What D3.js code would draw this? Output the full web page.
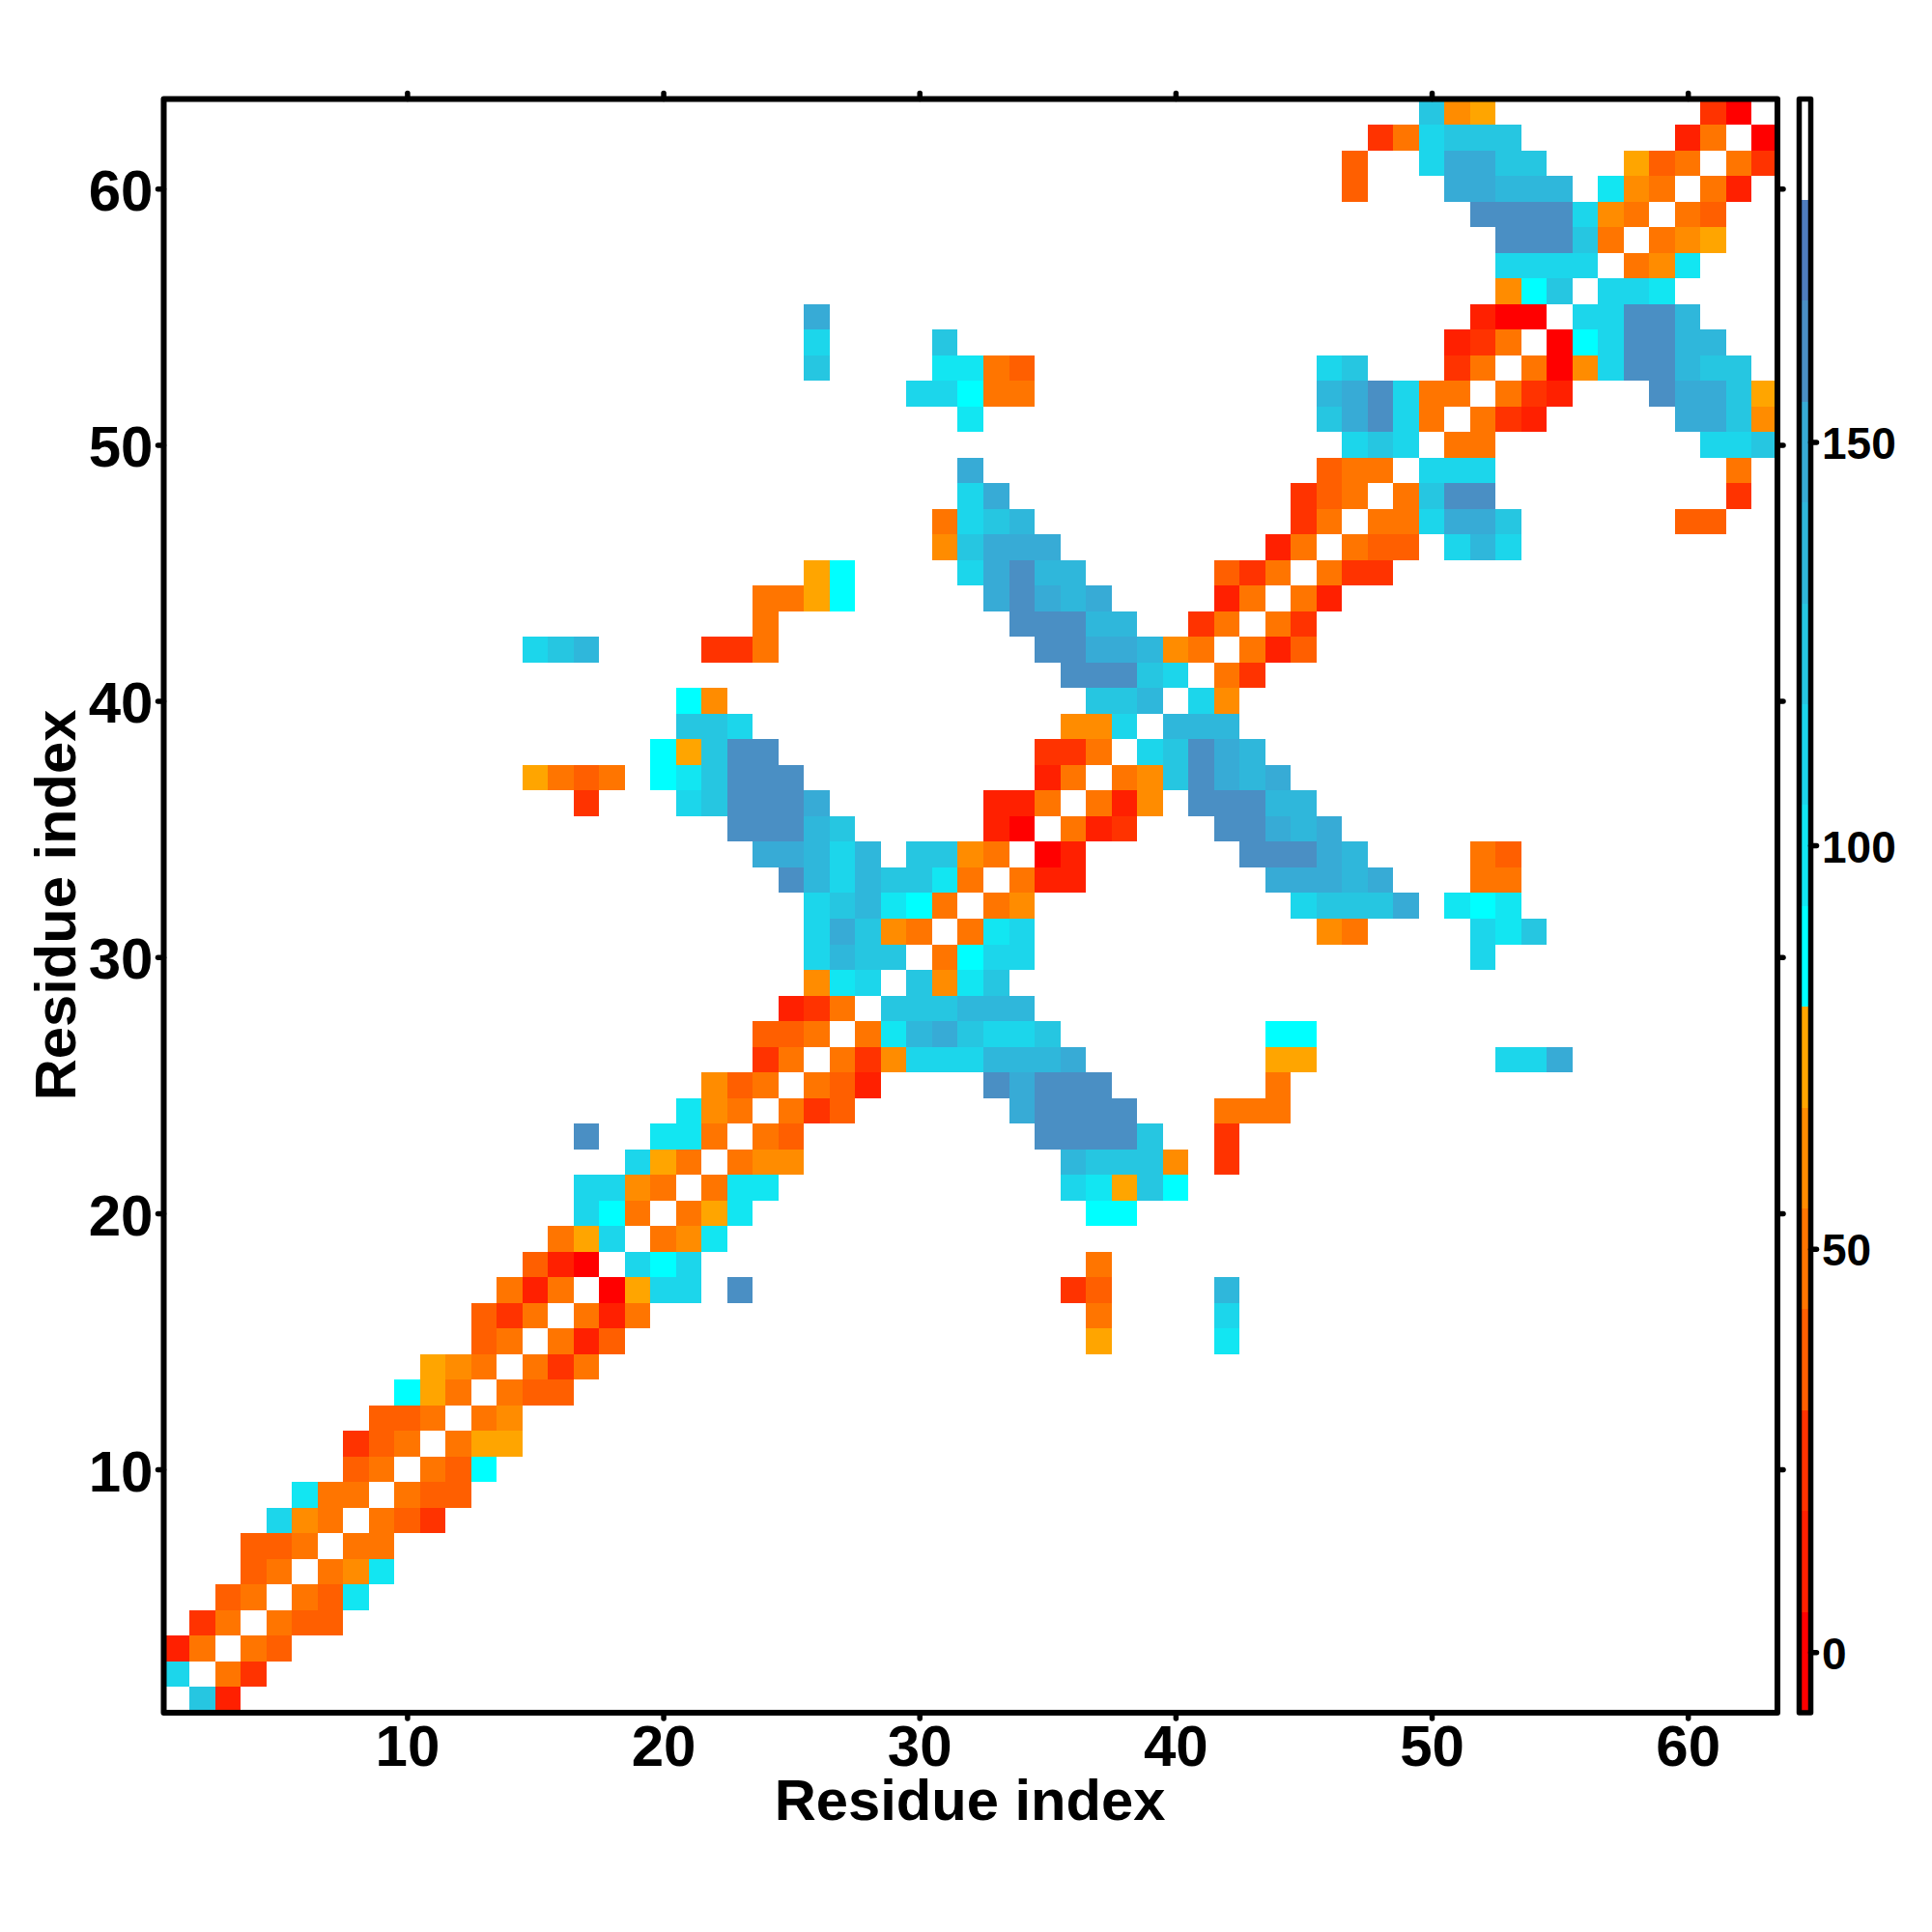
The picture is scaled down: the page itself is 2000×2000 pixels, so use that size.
<!DOCTYPE html>
<html>
<head>
<meta charset="utf-8">
<script src="https://cdn.jsdelivr.net/npm/d3@7"></script>
<style>
html,body{margin:0;padding:0;background:#fff}
text{font-family:"Liberation Sans",Arial,sans-serif;font-weight:bold;fill:#000}
</style>
</head>
<body>
<div id="chart"></div>
<script>
// Colour levels (low to high)
const levelColors = ["#ff0000","#ff2000","#ff3300","#ff5f00","#ff7500","#ff8c00","#ffa500",
  "#00ffff","#12e6f2","#1cd6eb","#26c6e1","#2fb7db","#37abd6","#4a8fc4","#4f7dbf","#ffffff"];
const levelThresholds = [5,17.5,30,42.5,55,67.5,80,92.5,105,117.5,130,142.5,155,167.5,180];
const levelValues = [-1,11,24,36,49,61,74,86,99,111,124,136,149,161,174,186];
const levelCodes = "0123456789abcde";
const valueDomain = [-7.5,192.5];

const residueTicks = [10,20,30,40,50,60];
const colorTicks = [0,50,100,150];
const axisTitle = "Residue index";

// Each run: residue y, first residue x, then one code per residue (value level; "." = no value)
const cellRuns = [
[1,2,"a1"],[2,1,"9.42"],[3,1,"14.43"],[4,2,"24.433"],[5,3,"34.438"],[6,4,"34.458"],[7,4,"334.44"],
[8,5,"954.432"],[9,6,"844.433"],[10,8,"34.437"],[11,8,"234.466"],[12,9,"334.45"],[13,10,"764.433"],
[14,11,"654.424"],[15,13,"34.413"],[15,37,"6"],[15,42,"8"],
[16,13,"324.414"],[16,37,"4"],[16,42,"9"],
[17,14,"414.0699.d"],[17,36,"23"],[17,42,"b"],
[18,15,"310.979"],[18,37,"4"],
[19,16,"469.458"],
[20,17,"974.468"],[20,37,"77"],
[21,17,"9954.488"],[21,36,"986a7"],
[22,19,"964.455"],[22,36,"baaa5.2"],
[23,17,"d"],[23,20,"884.43"],[23,35,"dddda"],[23,42,"2"],
[24,21,"854.423"],[24,34,"cdddd"],[24,42,"444"],
[25,22,"534.431"],[25,33,"dcddd"],[25,44,"4"],
[26,24,"24.425999bbbc"],[26,44,"66"],[26,53,"99c"],
[27,24,"334.48bca99a"],[27,44,"77"],
[28,25,"124.aaabbb"],
[29,26,"589.a58a"],
[30,26,"9baa.4799"],[30,52,"9"],
[31,26,"9ca54.489"],[31,46,"54"],[31,52,"98a"],
[32,26,"9ab874.45"],[32,45,"9aaac.878"],
[33,25,"db9baa84.411"],[33,44,"cccbc"],[33,52,"44"],
[34,24,"ccb9b.aa54.01"],[34,43,"dddcb"],[34,52,"43"],
[35,23,"dddba"],[35,33,"10.412"],[35,42,"ddcbc"],
[36,17,"2"],[36,21,"9adddc"],[36,33,"114.415.dddbb"],
[37,15,"6434.78addd"],[37,35,"14.45adcbc"],
[38,20,"76add"],[38,35,"224.9adcb"],
[39,21,"aa9"],[39,36,"559.bbb"],
[40,21,"75"],[40,37,"aab.95"],
[41,36,"ddda9.42"],
[42,15,"9ab"],[42,22,"224"],[42,35,"ddccb54.413"],
[43,24,"4"],[43,34,"dddbb"],[43,41,"24.42"],
[44,24,"4467"],[44,33,"cdcbc"],[44,42,"14.41"],
[45,26,"67"],[45,32,"9cdbb"],[45,42,"324.422"],
[46,31,"5accc"],[46,44,"14.433.9b9"],
[47,31,"49ab"],[47,45,"24.449cca"],[47,60,"33"],
[48,32,"9c"],[48,45,"234.4add"],[48,62,"2"],
[49,32,"c"],[49,46,"344.999"],[49,62,"4"],
[50,47,"9a9.44"],[50,61,"99a"],
[51,32,"8"],[51,46,"acd94.421"],[51,60,"cca5"],
[52,30,"99744"],[52,46,"bcd944.421"],[52,59,"dcca6"],
[53,26,"a"],[53,31,"8843"],[53,46,"9a"],[53,51,"24.4059ddbaa"],
[54,26,"9"],[54,31,"a"],[54,51,"124.079ddbb"],
[55,26,"c"],[55,52,"100.99ddb"],
[56,53,"57a.998"],
[57,53,"9999.458"],
[58,53,"ddda4.456"],
[59,52,"dddd954.43"],
[60,47,"3"],[60,51,"ccbbb"],[60,57,"854.41"],
[61,47,"3"],[61,50,"9ccaa"],[61,58,"634.42"],
[62,48,"249aaa"],[62,60,"14.0"],
[63,50,"a56"],[63,61,"20"]
];

const cells = [];
cellRuns.forEach(([y, start, codes]) => {
  Array.from(codes).forEach((c, k) => {
    const level = levelCodes.indexOf(c);
    if (level >= 0) cells.push({x: start + k, y, value: levelValues[level]});
  });
});

const W = 2000, H = 2000;
const xScale = d3.scaleLinear().domain([0.5,63.5]).range([169.5,1840]);
const yScale = d3.scaleLinear().domain([0.5,63.5]).range([1773,102.5]);
const colorScale = d3.scaleThreshold().domain(levelThresholds).range(levelColors);
const barY = d3.scaleLinear().domain(valueDomain).range([1773,102.5]);
const barLeft = 1862.5, barRight = 1874.5;

const svg = d3.select("#chart").append("svg").attr("width",W).attr("height",H)
  .style("display","block");
svg.append("rect").attr("width",W).attr("height",H).attr("fill","#fff");

// Heat map cells
svg.append("g").attr("shape-rendering","crispEdges").selectAll("rect").data(cells).join("rect")
  .attr("x", d => xScale(d.x-0.5))
  .attr("y", d => yScale(d.y+0.5))
  .attr("width", d => xScale(d.x+0.5)-xScale(d.x-0.5))
  .attr("height", d => yScale(d.y-0.5)-yScale(d.y+0.5))
  .attr("fill", d => colorScale(d.value));

function styleAxis(g, fontSize, dy){
  g.select(".domain").remove();
  g.selectAll(".tick line").attr("stroke","#000").attr("stroke-width",5.5).attr("stroke-linecap","round");
  g.selectAll(".tick text").style("font-size",fontSize+"px").attr("fill","#000");
  if (dy) g.selectAll(".tick text").attr("dy",dy);
}

// Axes
const [px0,px1] = xScale.range(), [py0,py1] = yScale.range();
svg.append("g").attr("transform",`translate(0,${py0})`)
  .call(d3.axisBottom(xScale).tickValues(residueTicks).tickSize(6).tickPadding(6))
  .call(styleAxis,60);
svg.append("g").attr("transform",`translate(${px0},0)`)
  .call(d3.axisLeft(yScale).tickValues(residueTicks).tickSize(6).tickPadding(5))
  .call(styleAxis,60,"0.37em");
svg.append("g").attr("transform",`translate(0,${py1})`)
  .call(d3.axisTop(xScale).tickValues(residueTicks).tickSize(6).tickFormat(""))
  .call(styleAxis,60);
svg.append("g").attr("transform",`translate(${px1},0)`)
  .call(d3.axisRight(yScale).tickValues(residueTicks).tickSize(6).tickFormat(""))
  .call(styleAxis,60);

// Frame
svg.append("rect").attr("x",px0).attr("y",py1).attr("width",px1-px0).attr("height",py0-py1)
  .attr("fill","none").attr("stroke","#000").attr("stroke-width",6).attr("stroke-linejoin","round");

// Titles
svg.append("text").attr("x",1004).attr("y",1884).attr("text-anchor","middle")
  .style("font-size","59.7px").text(axisTitle);
svg.append("text").attr("transform","translate(78,937) rotate(-90)").attr("text-anchor","middle")
  .style("font-size","59.7px").text(axisTitle);

// Colour bar
const barEdges = [valueDomain[0], ...levelThresholds, valueDomain[1]];
svg.append("g").attr("shape-rendering","crispEdges").selectAll("rect").data(levelColors).join("rect")
  .attr("x",barLeft).attr("width",barRight-barLeft)
  .attr("y",(d,i)=>barY(barEdges[i+1]))
  .attr("height",(d,i)=>barY(barEdges[i])-barY(barEdges[i+1]))
  .attr("fill",d=>d);
svg.append("g").attr("transform",`translate(${barRight},0)`)
  .call(d3.axisRight(barY).tickValues(colorTicks).tickSize(6).tickPadding(5.5))
  .call(styleAxis,46,"0.37em");
svg.append("rect").attr("x",barLeft).attr("y",py1).attr("width",barRight-barLeft).attr("height",py0-py1)
  .attr("fill","none").attr("stroke","#000").attr("stroke-width",5.5).attr("stroke-linejoin","round");
</script>
</body>
</html>
